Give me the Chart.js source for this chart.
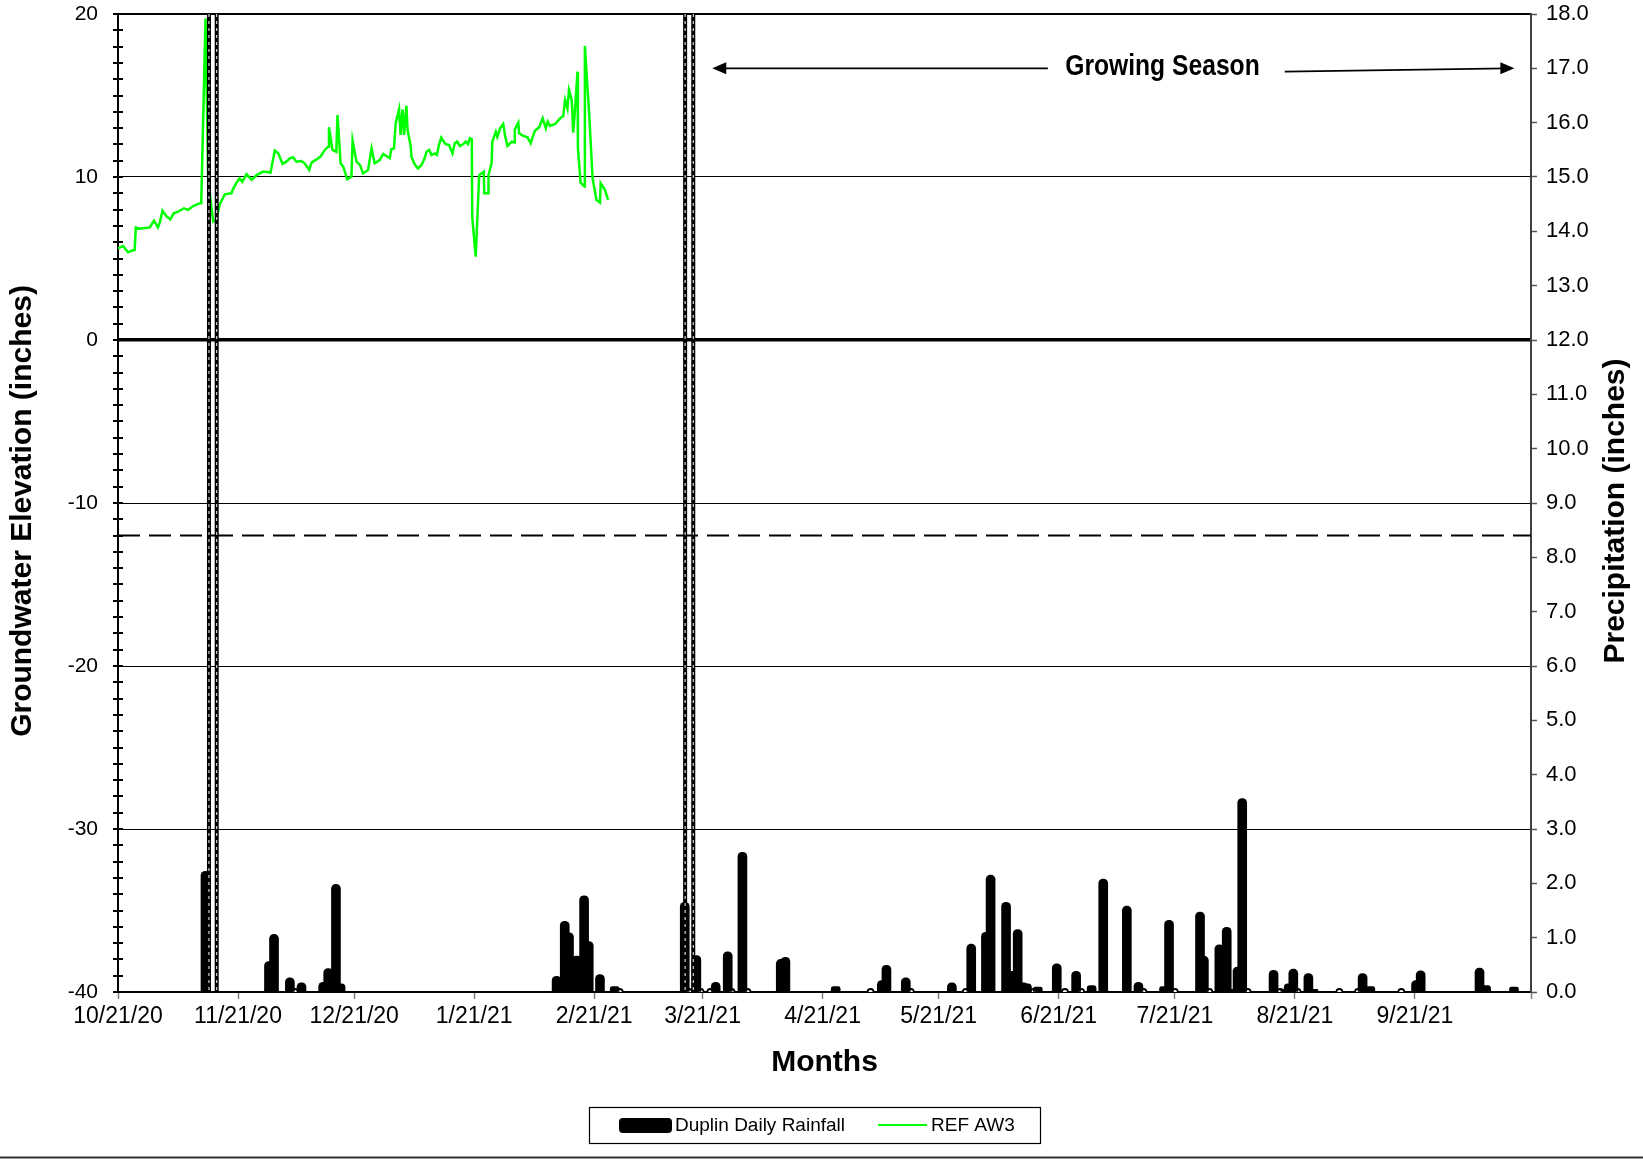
<!DOCTYPE html>
<html>
<head>
<meta charset="utf-8">
<title>REF AW3 groundwater and Duplin rainfall</title>
<script src="https://cdn.jsdelivr.net/npm/chart.js@4.4.1/dist/chart.umd.min.js"></script>
<style>
  html, body { margin: 0; padding: 0; background: #fff; }
  canvas { display: block; }
</style>
</head>
<body>
<canvas id="wellChart" width="1643" height="1159"></canvas>
<script>
// x values are days counted from 10/21/20
const monthDays = [0, 31, 61, 92, 123, 151, 182, 212, 243, 273, 304, 335, 365];
const monthLabels = ['10/21/20', '11/21/20', '12/21/20', '1/21/21', '2/21/21', '3/21/21',
  '4/21/21', '5/21/21', '6/21/21', '7/21/21', '8/21/21', '9/21/21', ''];

// REF AW3 well readings (inches relative to ground surface)
const wellDays = [
  0.0, 1.3, 2.6, 3.5, 4.3, 4.6, 5.6, 8.2, 9.3, 10.3,
  10.8, 11.5, 12.5, 13.5, 14.4, 15.5, 17.0, 18.1, 19.4, 21.0,
  21.5, 22.6, 23.3, 24.6, 25.4, 26.3, 27.6, 29.3, 29.7, 30.6,
  31.4, 32.1, 33.2, 34.5, 35.8, 37.5, 39.4, 40.5, 41.4, 42.5,
  43.5, 44.4, 45.2, 46.1, 47.4, 48.2, 49.4, 50.0, 51.3, 52.3,
  53.4, 54.3, 54.5, 55.4, 56.4, 56.7, 57.5, 58.2, 59.2, 60.3,
  60.6, 61.6, 62.5, 63.3, 64.6, 65.5, 66.3, 67.6, 68.5, 69.3,
  70.2, 70.6, 71.3, 71.7, 72.6, 73.0, 73.5, 73.9, 74.5, 74.8,
  75.6, 75.8, 76.7, 77.5, 78.4, 79.2, 79.7, 80.4, 81.0, 81.8,
  82.4, 82.9, 83.5, 84.6, 85.5, 86.4, 87.0, 87.6, 88.3, 89.2,
  89.8, 90.4, 90.9, 91.4, 91.5, 92.4, 93.3, 94.5, 94.6, 95.6,
  95.7, 96.5, 96.7, 97.6, 98.0, 98.7, 99.5, 100.0, 100.6, 101.7,
  102.3, 102.5, 103.4, 103.6, 104.7, 105.8, 106.6, 107.1, 107.7, 108.8,
  109.7, 110.5, 111.0, 111.6, 112.9, 114.2, 115.0, 115.5, 116.1, 116.5,
  117.2, 117.6, 118.1, 118.7, 118.8, 119.5, 120.5, 120.6, 121.7, 122.6,
  123.6, 124.5, 124.7, 125.8, 126.6
];
const wellLevels = [
  5.62, 5.77, 5.38, 5.48, 5.52, 6.91, 6.83, 6.91, 7.32, 6.91,
  7.20, 7.93, 7.60, 7.40, 7.77, 7.87, 8.08, 7.98, 8.22, 8.38,
  8.40, 19.73, 9.82, 7.26, 7.36, 8.34, 8.94, 9.00, 9.24, 9.65,
  9.92, 9.71, 10.18, 9.82, 10.12, 10.33, 10.27, 11.62, 11.45, 10.80,
  10.94, 11.15, 11.21, 10.94, 10.98, 10.84, 10.43, 10.88, 11.08, 11.25,
  11.66, 11.86, 13.05, 11.66, 11.55, 13.80, 10.84, 10.63, 9.86, 10.02,
  12.23, 10.94, 10.74, 10.22, 10.43, 11.76, 10.84, 11.04, 11.41, 11.29,
  11.15, 11.70, 11.76, 13.25, 14.15, 12.58, 14.15, 12.58, 14.36, 12.88,
  11.90, 11.25, 10.74, 10.53, 10.74, 11.15, 11.55, 11.66, 11.35, 11.45,
  11.35, 11.96, 12.41, 12.02, 11.96, 11.45, 12.07, 12.17, 11.90, 12.02,
  12.17, 12.02, 12.37, 12.31, 7.57, 5.11, 10.12, 10.33, 9.00, 9.00,
  10.12, 10.84, 12.17, 12.78, 12.47, 12.99, 13.25, 12.52, 11.90, 12.17,
  12.11, 12.92, 13.33, 12.68, 12.52, 12.43, 12.07, 12.43, 12.84, 13.05,
  13.60, 12.99, 13.40, 13.13, 13.25, 13.60, 13.74, 14.72, 14.21, 15.34,
  14.72, 12.72, 14.32, 16.46, 11.76, 9.65, 9.41, 18.04, 13.91, 9.92,
  8.59, 8.43, 9.61, 9.20, 8.59
];

// Duplin daily rainfall (inches)
const rainDays = [
  22.6, 39.0, 40.3, 44.4, 47.4, 53.0, 54.3, 56.3, 57.5,
  113.3, 115.4, 116.5, 118.4, 119.3, 120.4, 121.6, 124.5, 128.3,
  146.4, 149.4, 154.4, 157.5, 161.3, 171.2, 172.4, 185.4, 197.3, 198.5, 203.5,
  215.4, 220.4, 224.2, 225.4, 229.4, 230.9, 232.4, 233.9, 234.8, 237.6,
  242.5, 247.5, 251.5, 254.5, 260.6, 263.6, 270.2, 271.5,
  279.5, 280.5, 284.5, 286.4, 287.7, 289.2, 290.4,
  298.5, 301.5, 302.4, 303.6, 307.5, 308.8, 321.5, 323.5, 335.3, 336.5, 351.7, 353.4, 360.6
];
const rainInches = [
  2.22, 0.56, 1.06, 0.26, 0.17, 0.18, 0.43, 1.98, 0.15,
  0.29, 1.30, 1.09, 0.66, 0.66, 1.77, 0.93, 0.32, 0.10,
  1.65, 0.67, 0.18, 0.74, 2.57, 0.60, 0.64, 0.10, 0.21, 0.49, 0.26,
  0.17, 0.88, 1.10, 2.15, 1.65, 0.38, 1.15, 0.17, 0.15, 0.09,
  0.52, 0.38, 0.12, 2.08, 1.58, 0.18, 0.10, 1.32,
  1.47, 0.66, 0.87, 1.19, 0.05, 0.46, 3.56,
  0.40, 0.05, 0.15, 0.42, 0.34, 0.05, 0.34, 0.10, 0.21, 0.39, 0.44, 0.12, 0.09
];
// days with a zero reading, shown as open circles on the baseline
const dryDays = [45.7, 129.6, 147.5, 150.5, 153.0, 158.5, 162.6, 194.4, 204.8, 219.0,
  236.5, 244.6, 248.8, 264.9, 273.0, 281.9, 291.8, 300.2, 304.7, 315.5, 320.3, 331.5];

// site visits (double dashed verticals) and the 12 inch criterion
const eventDays = [23.5, 25.5, 146.5, 148.6];
const criterionLevel = -12;

// growing season arrow, in days and precipitation-axis units
const seasonStart = 153.5;
const seasonEnd = 360.7;
const seasonGapStart = 240.2;
const seasonGapEnd = 301.4;
const seasonLabelDay = 269.8;
const seasonLevel = 17.0;
const seasonRightStartLevel = 16.94;

const FONT = "'Liberation Sans', Arial, sans-serif";
Chart.defaults.font.family = FONT;
Chart.defaults.color = '#000';

function arrowHead(ctx, x, y, dir) {
  ctx.beginPath();
  ctx.moveTo(x, y);
  ctx.lineTo(x - dir * 14, y - 6);
  ctx.lineTo(x - dir * 14, y + 6);
  ctx.closePath();
  ctx.fill();
}

function segment(ctx, x1, y1, x2, y2) {
  ctx.beginPath();
  ctx.moveTo(x1, y1);
  ctx.lineTo(x2, y2);
  ctx.stroke();
}

function sideTitle(ctx, text, cx, cy) {
  ctx.save();
  ctx.translate(cx, cy);
  ctx.rotate(-Math.PI / 2);
  ctx.font = 'bold 30px ' + FONT;
  ctx.fillStyle = '#000';
  ctx.textAlign = 'center';
  ctx.textBaseline = 'middle';
  ctx.fillText(text, 0, 0);
  ctx.restore();
}

// vertical axes: keep tick padding from pushing the plot area down
function fixWidth(w) {
  return scale => {
    scale.width = w;
    scale.paddingTop = 0;
    scale.paddingBottom = 0;
  };
}

const overlays = {
  id: 'overlays',
  afterDatasetsDraw(chart) {
    const {ctx, chartArea: area} = chart;
    const {x, y, yR} = chart.scales;
    ctx.save();

    // 12 inch below-surface criterion
    const yc = y.getPixelForValue(criterionLevel);
    ctx.strokeStyle = '#000';
    ctx.lineWidth = 2;
    ctx.setLineDash([22, 9]);
    segment(ctx, area.left, yc, area.right, yc);

    // double dashed event lines
    eventDays.forEach(d => {
      const px = x.getPixelForValue(d);
      ctx.setLineDash([]);
      ctx.strokeStyle = '#000';
      ctx.lineWidth = 4;
      segment(ctx, px, area.top, px, area.bottom);
      ctx.setLineDash([3, 4]);
      ctx.strokeStyle = '#fff';
      ctx.lineWidth = 1;
      segment(ctx, px, area.top, px, area.bottom);
    });

    // growing season arrow
    ctx.setLineDash([]);
    ctx.strokeStyle = '#000';
    ctx.fillStyle = '#000';
    ctx.lineWidth = 1.6;
    const sy = yR.getPixelForValue(seasonLevel);
    const sx0 = x.getPixelForValue(seasonStart);
    const sx1 = x.getPixelForValue(seasonEnd);
    segment(ctx, sx0 + 8, sy, x.getPixelForValue(seasonGapStart), sy);
    segment(ctx, x.getPixelForValue(seasonGapEnd), yR.getPixelForValue(seasonRightStartLevel), sx1 - 8, sy);
    arrowHead(ctx, sx0, sy, -1);
    arrowHead(ctx, sx1, sy, 1);
    ctx.save();
    ctx.translate(x.getPixelForValue(seasonLabelDay), sy - 1);
    ctx.scale(0.85, 1);
    ctx.font = 'bold 29px ' + FONT;
    ctx.textAlign = 'center';
    ctx.textBaseline = 'middle';
    ctx.fillText('Growing Season', 0, 0);
    ctx.restore();

    // tick marks crossing the left axis
    ctx.strokeStyle = '#000';
    ctx.lineWidth = 2;
    y.ticks.forEach(t => {
      const py = Math.round(y.getPixelForValue(t.value));
      segment(ctx, y.right - 5, py, y.right + 5, py);
    });
    ctx.restore();
  },
  afterDraw(chart) {
    const {ctx, chartArea: area} = chart;
    const yR = chart.scales.yR;
    const rain = chart.data.datasets[0];
    const well = chart.data.datasets[2];
    const midY = (area.top + area.bottom) / 2 + 8;

    sideTitle(ctx, 'Groundwater Elevation (inches)', 23, midY);
    sideTitle(ctx, 'Precipitation (inches)', yR.right - 27, midY);

    ctx.save();
    // legend
    ctx.strokeStyle = '#000';
    ctx.lineWidth = 1.2;
    ctx.strokeRect(589.5, 1107.5, 451, 36);
    ctx.fillStyle = rain.backgroundColor;
    ctx.beginPath();
    ctx.roundRect(619, 1118, 53, 15, 4);
    ctx.fill();
    ctx.strokeStyle = well.borderColor;
    ctx.lineWidth = 2.2;
    segment(ctx, 878, 1125, 927, 1125);
    ctx.font = '19px ' + FONT;
    ctx.fillStyle = '#000';
    ctx.textAlign = 'left';
    ctx.textBaseline = 'alphabetic';
    ctx.fillText(rain.label, 675, 1131);
    ctx.fillText(well.label, 931, 1131);

    // frame rule along the bottom edge
    ctx.strokeStyle = '#333';
    ctx.lineWidth = 2;
    segment(ctx, 0, chart.height - 1.5, chart.width, chart.height - 1.5);
    ctx.restore();
  }
};

const ctx = document.getElementById('wellChart').getContext('2d');
new Chart(ctx, {
  type: 'bar',
  data: {
    datasets: [
      {
        type: 'bar',
        label: 'Duplin Daily Rainfall',
        data: rainDays.map((d, i) => ({x: d, y: rainInches[i]})),
        yAxisID: 'yR',
        backgroundColor: '#000',
        barThickness: 9,
        borderRadius: 4.5,
        borderSkipped: 'start'
      },
      {
        type: 'line',
        label: 'no rain',
        data: dryDays.map(d => ({x: d, y: 0})),
        yAxisID: 'yR',
        showLine: false,
        pointRadius: 3,
        pointBackgroundColor: '#fff',
        pointBorderColor: '#000',
        pointBorderWidth: 1.8
      },
      {
        type: 'line',
        label: 'REF AW3',
        data: wellDays.map((d, i) => ({x: d, y: wellLevels[i]})),
        yAxisID: 'y',
        borderColor: '#00ff00',
        borderWidth: 2.5,
        pointRadius: 0,
        tension: 0
      }
    ]
  },
  options: {
    responsive: false,
    animation: false,
    layout: {padding: {left: 0, right: 0, top: 14, bottom: 77}},
    plugins: {
      legend: {display: false},
      tooltip: {enabled: false}
    },
    scales: {
      x: {
        type: 'linear',
        position: 'bottom',
        min: 0,
        max: 365,
        offset: false,
        afterBuildTicks: scale => {
          scale.ticks = monthDays.map(v => ({value: v}));
        },
        afterFit: scale => { scale.height = 90; },
        ticks: {
          autoSkip: false,
          maxRotation: 0,
          minRotation: 0,
          padding: 4,
          font: {size: 23},
          callback: (value, index) => monthLabels[index]
        },
        grid: {
          offset: false,
          drawOnChartArea: false,
          drawTicks: true,
          tickLength: 7,
          tickColor: '#808080',
          tickWidth: 1.5
        },
        border: {color: '#000', width: 2},
        title: {
          display: true,
          text: 'Months',
          font: {size: 30, weight: 'bold', lineHeight: 1},
          padding: {top: 0, bottom: 4}
        }
      },
      y: {
        position: 'left',
        min: -40,
        max: 20,
        afterFit: fixWidth(118),
        ticks: {
          stepSize: 1,
          autoSkip: false,
          padding: 20,
          font: {size: 21},
          callback: v => (v % 10 === 0 ? v : '')
        },
        grid: {
          drawTicks: false,
          color: c => (c.tick.value % 10 === 0 ? '#000' : 'rgba(0,0,0,0)'),
          lineWidth: c => (c.tick.value === 0 ? 3.5 : c.tick.value === 20 ? 2 : 1)
        },
        border: {color: '#000', width: 2}
      },
      yR: {
        position: 'right',
        min: 0,
        max: 18,
        afterFit: fixWidth(112),
        ticks: {
          stepSize: 1,
          padding: 9,
          font: {size: 22},
          callback: v => v.toFixed(1)
        },
        grid: {
          drawOnChartArea: false,
          drawTicks: true,
          tickLength: 6,
          tickColor: '#555',
          tickWidth: 1.5
        },
        border: {color: '#404040', width: 2}
      }
    }
  },
  plugins: [overlays]
});
</script>
</body>
</html>
